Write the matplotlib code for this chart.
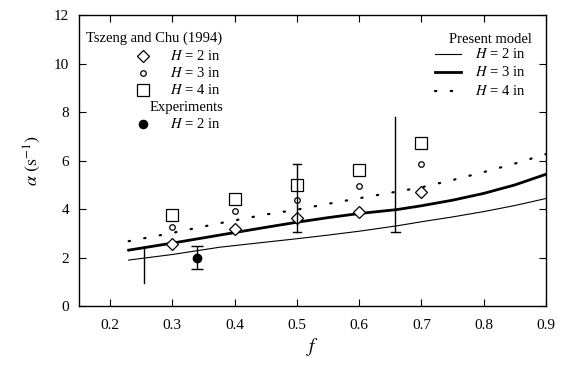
import matplotlib
matplotlib.use("Agg")
import matplotlib.pyplot as plt
import numpy as np

plt.rcParams['font.family'] = ['Liberation Serif', 'DejaVu Serif']
plt.rcParams['mathtext.fontset'] = 'stix'

# Tszeng and Chu (1994) results
f_tc = [0.3, 0.4, 0.5, 0.6, 0.7]
tc_h2 = [2.56, 3.17, 3.63, 3.88, 4.70]
tc_h3 = [3.26, 3.92, 4.37, 4.95, 5.86]
tc_h4 = [3.75, 4.41, 4.99, 5.61, 6.72]

# Experiment, H = 2 in
f_exp = [0.34]
a_exp = [1.98]
exp_lo = [1.53]
exp_hi = [2.47]

# Range bars: (f, low, high, capped low, capped high)
bar_f = [0.254, 0.5, 0.658]
bar_lo = [0.95, 3.05, 3.05]
bar_hi = [2.45, 5.85, 7.78]
bar_cap_lo = [False, True, True]
bar_cap_hi = [False, True, False]

# Present model curves
f_model = [0.23, 0.3, 0.376, 0.45, 0.5, 0.55, 0.6, 0.66, 0.7, 0.75, 0.8, 0.85, 0.9]
m_h2 = [1.90, 2.13, 2.43, 2.64, 2.78, 2.93, 3.09, 3.31, 3.48, 3.68, 3.90, 4.15, 4.44]
m_h3 = [2.31, 2.60, 2.93, 3.25, 3.46, 3.65, 3.82, 3.98, 4.14, 4.37, 4.65, 5.00, 5.44]
m_h4 = [2.68, 3.02, 3.42, 3.78, 3.98, 4.22, 4.45, 4.72, 4.90, 5.20, 5.53, 5.88, 6.27]

fig = plt.figure(figsize=(5.63, 3.68), dpi=100)
ax = fig.add_axes([0.140, 0.168, 0.830, 0.791])

ax.plot(f_model, m_h2, color='black', lw=0.8)
ax.plot(f_model, m_h3, color='black', lw=2.0)
ax.plot(f_model, m_h4, color='black', lw=1.6, linestyle=(0, (0.6, 6.5)),
        dash_capstyle='round')

ax.plot(f_tc, tc_h2, linestyle='none', marker='D', ms=6.5, mfc='white',
        mec='black', mew=0.9)
ax.plot(f_tc, tc_h3, linestyle='none', marker='o', ms=4, mfc='white',
        mec='black', mew=0.9)
ax.plot(f_tc, tc_h4, linestyle='none', marker='s', ms=8, mfc='white',
        mec='black', mew=0.9)

ax.errorbar(f_exp, a_exp,
            yerr=[np.subtract(a_exp, exp_lo), np.subtract(exp_hi, a_exp)],
            fmt='o', color='black', ms=6, capsize=4, elinewidth=1, capthick=1)

for x, lo, hi, clo, chi in zip(bar_f, bar_lo, bar_hi, bar_cap_lo, bar_cap_hi):
    ax.plot([x, x], [lo, hi], color='black', lw=1)
    if clo:
        ax.plot([x - 0.007, x + 0.007], [lo, lo], color='black', lw=1)
    if chi:
        ax.plot([x - 0.007, x + 0.007], [hi, hi], color='black', lw=1)

ax.set_xlim(0.15, 0.9)
ax.set_ylim(0, 12)
ax.set_xticks([0.2, 0.3, 0.4, 0.5, 0.6, 0.7, 0.8, 0.9])
ax.set_yticks([0, 2, 4, 6, 8, 10, 12])
ax.set_xticklabels(['0.2', '0.3', '0.4', '0.5', '0.6', '0.7', '0.8', '0.9'])
ax.tick_params(direction='in', top=True, right=True, length=5, width=0.8,
               labelsize=11, pad=7)
ax.tick_params(axis='x', pad=9)
for s in ax.spines.values():
    s.set_linewidth(1.0)

ax.set_xlabel('$f$', fontsize=14, labelpad=3)
ax.set_ylabel(r'$\alpha\ (\mathrm{s}^{-1})$', fontsize=13, labelpad=8)

# Key, left block
T = ax.transAxes
def ax_xy(px, py):
    return (px - 79) / 467, (306 - py) / 291

fs = 10.5
ax.text(*ax_xy(86, 38), 'Tszeng and Chu (1994)', transform=T, fontsize=fs,
        va='center', ha='left')
mx = 143
for py, mk, ms, fc, lab in [(56, 'D', 6.5, 'white', '$H$ = 2 in'),
                            (73, 'o', 4, 'white', '$H$ = 3 in'),
                            (90, 's', 8, 'white', '$H$ = 4 in'),
                            (124, 'o', 6, 'black', '$H$ = 2 in')]:
    ax.plot(*ax_xy(mx, py), marker=mk, ms=ms, mfc=fc, mec='black', mew=0.9,
            transform=T, clip_on=False)
    ax.text(*ax_xy(170, py), lab, transform=T, fontsize=fs, va='center',
            ha='left')
ax.text(*ax_xy(150, 107), 'Experiments', transform=T, fontsize=fs,
        va='center', ha='left')

# Key, right block
ax.text(*ax_xy(532, 39), 'Present model', transform=T, fontsize=fs,
        va='center', ha='right')
for py, lw, ls, lab in [(54, 0.8, '-', '$H$ = 2 in'),
                        (72, 2.0, '-', '$H$ = 3 in'),
                        (91, 1.6, (0, (0.6, 6.5)), '$H$ = 4 in')]:
    (x0, y0), (x1, _) = ax_xy(435, py), ax_xy(461, py)
    ax.plot([x0, x1], [y0, y0], color='black', lw=lw, linestyle=ls,
            dash_capstyle='round', transform=T)
    ax.text(*ax_xy(475, py), lab, transform=T, fontsize=fs, va='center',
            ha='left')

fig.savefig('out.png', dpi=100)
